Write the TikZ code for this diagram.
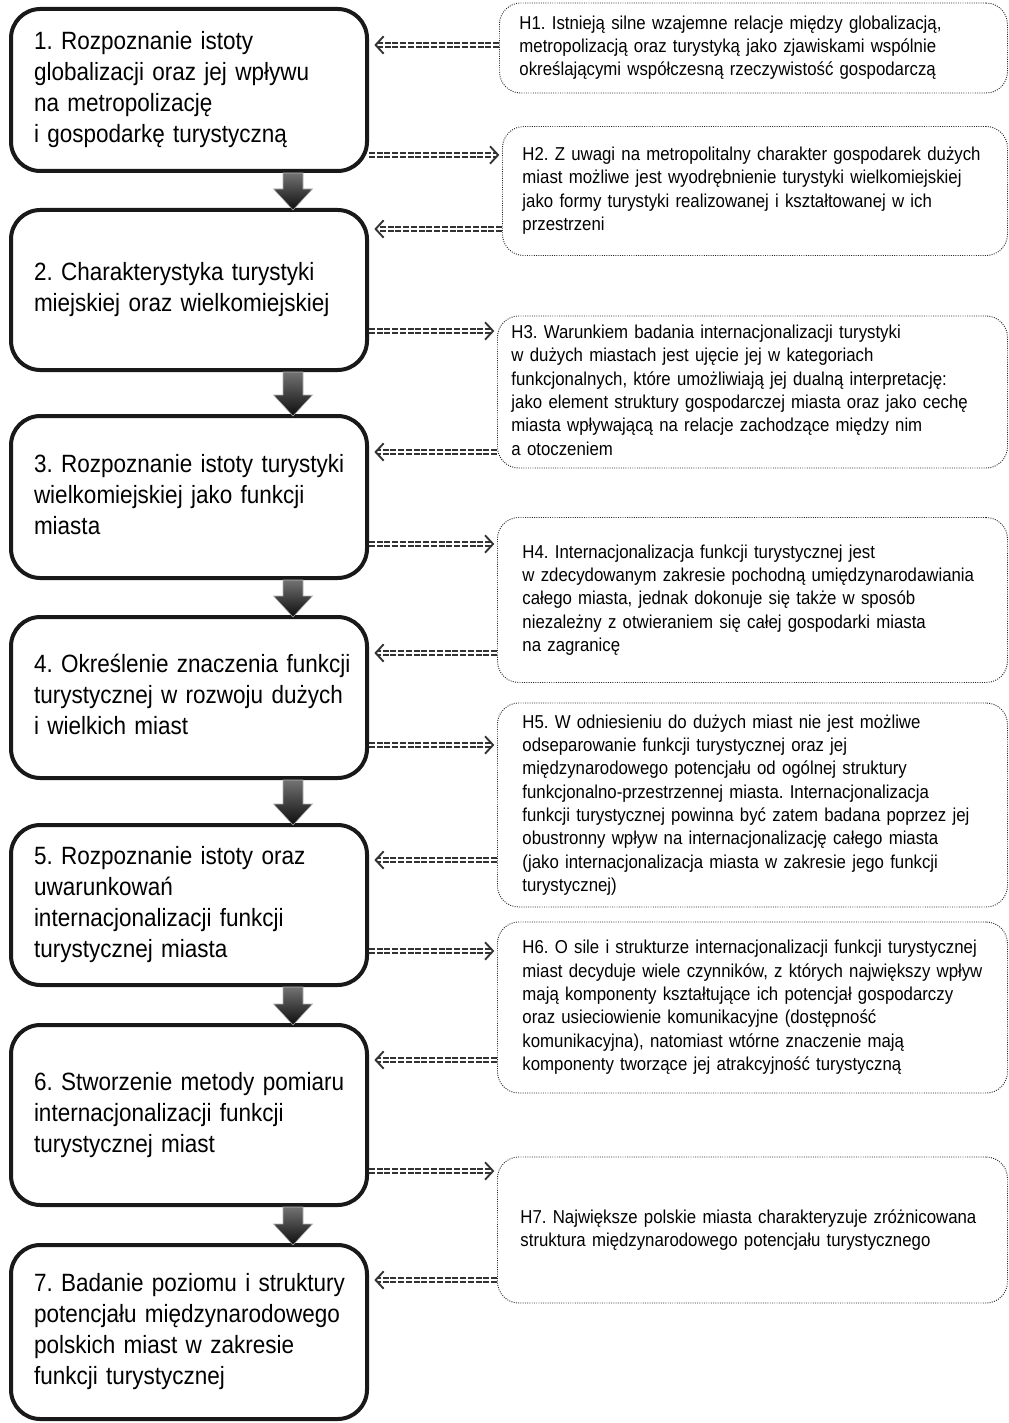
\documentclass[tikz,border=0pt]{standalone}
\usepackage{fontspec}
\setmainfont{Liberation Sans}[FakeStretch=0.9]
\usetikzlibrary{arrows.meta,calc}
\newcommand\mylines[1]{\begin{tabular}{@{}l@{}}#1\end{tabular}}
\tikzset{
  lbox/.style={draw=black!90, line width=3pt, rounded corners=22pt, anchor=west,
    minimum width=267pt, text width=232.5pt, inner xsep=17.25pt, inner ysep=0pt, align=left,
    font=\frenchspacing\fontsize{18.75pt}{23.25pt}\selectfont},
  hbox/.style={draw=black!85, densely dotted, line width=0.7pt, rounded corners=16pt, anchor=west,
    inner ysep=0pt, align=left, font=\frenchspacing\fontsize{14pt}{17.5pt}\selectfont},
  conn/.style={draw=black!80, line width=1.4pt, double=white, double distance=1.2pt,
    dash pattern=on 4.5pt off 1.3pt, -{Straight Barb[length=6pt,width=13pt]}},
  barrow/.style={top color=black!55, bottom color=black!95, draw=black!30, line width=0.4pt}
}
\newcommand\blockarr[2]{%
  \path[barrow] let \p1=(#1.south), \p2=(#2.north) in
   (\x1+70.5pt,\y1) -- (\x1+85.5pt,\y1) -- (\x1+85.5pt,\y2+14.25pt) -- (\x1+92.6pt,\y2+14.25pt)
   -- (\x1+78pt,\y2-1.5pt) -- (\x1+63.4pt,\y2+14.25pt) -- (\x1+70.5pt,\y2+14.25pt) -- cycle;}
\begin{document}
\begin{tikzpicture}[x=0.75pt,y=-0.75pt]
\useasboundingbox[fill=white] (0,0) rectangle (1009,1423);
% left boxes
\node[lbox, minimum height=121.5pt] (b1) at (9,90) {\mylines{1. Rozpoznanie istoty\\globalizacji oraz jej wpływu\\na metropolizację\\i gospodarkę turystyczną}};
\node[lbox, minimum height=120pt] (b2) at (9,290) {\mylines{2. Charakterystyka turystyki\\miejskiej oraz wielkomiejskiej}};
\node[lbox, minimum height=121.5pt] (b3) at (9,497) {\mylines{3. Rozpoznanie istoty turystyki\\wielkomiejskiej jako funkcji\\miasta}};
\node[lbox, minimum height=120.75pt] (b4) at (9,697.5) {\mylines{4. Określenie znaczenia funkcji\\turystycznej w rozwoju dużych\\i wielkich miast}};
\node[lbox, minimum height=120pt] (b5) at (9,905) {\mylines{5. Rozpoznanie istoty oraz\\uwarunkowań\\internacjonalizacji funkcji\\turystycznej miasta}};
\node[lbox, minimum height=135pt] (b6) at (9,1115) {\mylines{6. Stworzenie metody pomiaru\\internacjonalizacji funkcji\\turystycznej miast}};
\node[lbox, minimum height=130.5pt] (b7) at (9,1332) {\mylines{7. Badanie poziomu i struktury\\potencjału międzynarodowego\\polskich miast w zakresie\\funkcji turystycznej}};
% right boxes
\node[hbox, minimum width=381pt, text width=351pt, inner xsep=15pt, minimum height=67.5pt] (h1) at (499,48)
 {\mylines{H1. Istnieją silne wzajemne relacje między globalizacją,\\metropolizacją oraz turystyką jako zjawiskami wspólnie\\określającymi współczesną rzeczywistość gospodarczą}};
\node[hbox, minimum width=378.75pt, text width=348.75pt, inner xsep=15pt, minimum height=96.75pt] (h2) at (502,191)
 {\mylines{H2. Z uwagi na metropolitalny charakter gospodarek dużych\\miast możliwe jest wyodrębnienie turystyki wielkomiejskiej\\jako formy turystyki realizowanej i kształtowanej w ich\\przestrzeni}};
\node[hbox, minimum width=382.5pt, text width=361.5pt, inner xsep=10.5pt, minimum height=114pt] (h3) at (497,392)
 {\mylines{H3. Warunkiem badania internacjonalizacji turystyki\\w dużych miastach jest ujęcie jej w kategoriach\\funkcjonalnych, które umożliwiają jej dualną interpretację:\\jako element struktury gospodarczej miasta oraz jako cechę\\miasta wpływającą na relacje zachodzące między nim\\a otoczeniem}};
\node[hbox, minimum width=382.5pt, text width=345pt, inner xsep=18.75pt, minimum height=123.75pt] (h4) at (497,600)
 {\mylines{H4. Internacjonalizacja funkcji turystycznej jest\\w zdecydowanym zakresie pochodną umiędzynarodawiania\\całego miasta, jednak dokonuje się także w sposób\\niezależny z otwieraniem się całej gospodarki miasta\\na zagranicę}};
\node[hbox, minimum width=382.5pt, text width=345pt, inner xsep=18.75pt, minimum height=153pt] (h5) at (497,805)
 {\mylines{H5. W odniesieniu do dużych miast nie jest możliwe\\odseparowanie funkcji turystycznej oraz jej\\międzynarodowego potencjału od ogólnej struktury\\funkcjonalno-przestrzennej miasta. Internacjonalizacja\\funkcji turystycznej powinna być zatem badana poprzez jej\\obustronny wpływ na internacjonalizację całego miasta\\(jako internacjonalizacja miasta w zakresie jego funkcji\\turystycznej)}};
\node[hbox, minimum width=382.5pt, text width=345pt, inner xsep=18.75pt, minimum height=128.25pt] (h6) at (497,1007.5)
 {\mylines{H6. O sile i strukturze internacjonalizacji funkcji turystycznej\\miast decyduje wiele czynników, z których największy wpływ\\mają komponenty kształtujące ich potencjał gospodarczy\\oraz usieciowienie komunikacyjne (dostępność\\komunikacyjna), natomiast wtórne znaczenie mają\\komponenty tworzące jej atrakcyjność turystyczną}};
\node[hbox, minimum width=382.5pt, text width=348pt, inner xsep=17.25pt, minimum height=109.5pt] (h7) at (497,1230)
 {\mylines{H7. Największe polskie miasta charakteryzuje zróżnicowana\\struktura międzynarodowego potencjału turystycznego}};
% block arrows
\blockarr{b1}{b2}
\blockarr{b2}{b3}
\blockarr{b3}{b4}
\blockarr{b4}{b5}
\blockarr{b5}{b6}
\blockarr{b6}{b7}
% connector levels
\coordinate (c1) at (0,45);
\coordinate (c2) at (0,155);
\coordinate (c3) at (0,229);
\coordinate (c4) at (0,331);
\coordinate (c5) at (0,452);
\coordinate (c6) at (0,544);
\coordinate (c7) at (0,653);
\coordinate (c8) at (0,745);
\coordinate (c9) at (0,860);
\coordinate (c10) at (0,951);
\coordinate (c11) at (0,1060);
\coordinate (c12) at (0,1171);
\coordinate (c13) at (0,1280);
% connectors
\draw[conn, shorten >=4pt] (h1.west |- c1) -- (b1.east |- c1);
\draw[conn, shorten >=2pt] (b1.east |- c2) -- (h2.west |- c2);
\draw[conn, shorten >=4pt] (h2.west |- c3) -- (b2.east |- c3);
\draw[conn, shorten >=2pt] (b2.east |- c4) -- (h3.west |- c4);
\draw[conn, shorten >=4pt] (h3.west |- c5) -- (b3.east |- c5);
\draw[conn, shorten >=2pt] (b3.east |- c6) -- (h4.west |- c6);
\draw[conn, shorten >=4pt] (h4.west |- c7) -- (b4.east |- c7);
\draw[conn, shorten >=2pt] (b4.east |- c8) -- (h5.west |- c8);
\draw[conn, shorten >=4pt] (h5.west |- c9) -- (b5.east |- c9);
\draw[conn, shorten >=2pt] (b5.east |- c10) -- (h6.west |- c10);
\draw[conn, shorten >=4pt] (h6.west |- c11) -- (b6.east |- c11);
\draw[conn, shorten >=2pt] (b6.east |- c12) -- (h7.west |- c12);
\draw[conn, shorten >=4pt] (h7.west |- c13) -- (b7.east |- c13);
\end{tikzpicture}
\end{document}
